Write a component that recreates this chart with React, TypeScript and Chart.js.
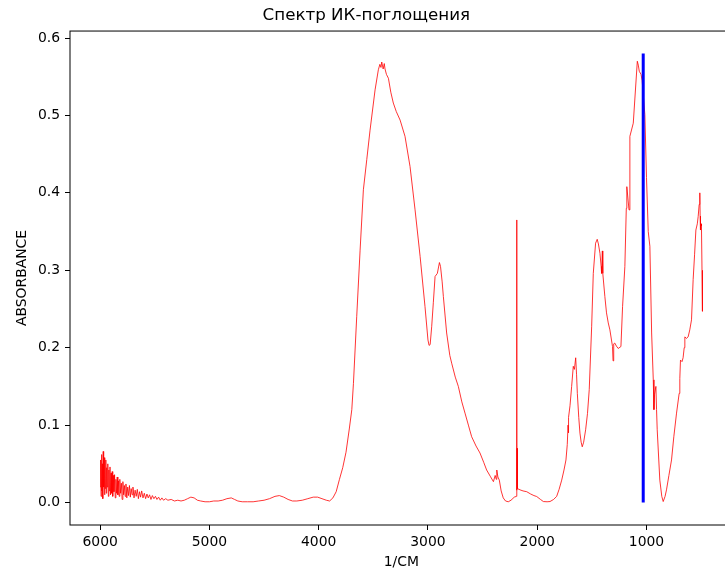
import React, { useEffect, useRef } from "react";
import { Chart, registerables } from "chart.js";

Chart.register(...registerables);

const chartTitle = "Спектр ИК-поглощения";
const xAxisLabel = "1/CM";
const yAxisLabel = "ABSORBANCE";

const xTicks = [6000, 5000, 4000, 3000, 2000, 1000];
const yTicks = [0, 0.1, 0.2, 0.3, 0.4, 0.5, 0.6];

// [wavenumber (1/cm), absorbance]
const spectrum: [number, number][] = [
  [6000, 0.02], [5996, 0.055], [5992, 0.008], [5988, 0.062], [5984, 0.015], [5980, 0.05], [5976, 0.005], [5972, 0.066], [5968, 0.02], [5964, 0.058],
  [5960, 0.01], [5956, 0.048], [5952, 0.018], [5948, 0.055], [5944, 0.012], [5940, 0.045], [5935, 0.02], [5930, 0.05], [5925, 0.008], [5920, 0.042],
  [5915, 0.015], [5910, 0.046], [5905, 0.01], [5900, 0.038], [5895, 0.012], [5890, 0.04], [5885, 0.008], [5880, 0.035], [5874, 0.014], [5868, 0.036],
  [5862, 0.006], [5856, 0.03], [5850, 0.012], [5844, 0.033], [5838, 0.01], [5832, 0.028], [5826, 0.008], [5820, 0.03], [5813, 0.012], [5806, 0.025],
  [5799, 0.004], [5792, 0.027], [5785, 0.01], [5778, 0.022], [5771, 0.008], [5764, 0.024], [5756, 0.006], [5748, 0.02], [5740, 0.009], [5732, 0.022],
  [5724, 0.007], [5716, 0.018], [5708, 0.01], [5700, 0.02], [5690, 0.006], [5680, 0.016], [5670, 0.008], [5660, 0.017], [5650, 0.005], [5640, 0.014],
  [5630, 0.007], [5620, 0.015], [5608, 0.006], [5596, 0.012], [5584, 0.005], [5572, 0.011], [5560, 0.006], [5548, 0.01], [5535, 0.004], [5522, 0.009],
  [5508, 0.005], [5494, 0.008], [5480, 0.004], [5465, 0.007], [5450, 0.003], [5435, 0.006], [5420, 0.003], [5400, 0.005], [5380, 0.003], [5350, 0.004],
  [5320, 0.002], [5290, 0.003], [5260, 0.002], [5230, 0.003], [5200, 0.005], [5170, 0.007], [5140, 0.006], [5110, 0.003], [5080, 0.002], [5040, 0.001],
  [5000, 0.001], [4960, 0.002], [4920, 0.002], [4880, 0.003], [4840, 0.005], [4800, 0.006], [4770, 0.004], [4740, 0.002], [4700, 0.001], [4650, 0.001],
  [4600, 0.001], [4550, 0.002], [4500, 0.003], [4450, 0.005], [4400, 0.008], [4360, 0.009], [4320, 0.007], [4280, 0.004], [4240, 0.002], [4200, 0.002],
  [4150, 0.003], [4100, 0.005], [4050, 0.007], [4010, 0.007], [3970, 0.005], [3930, 0.003], [3900, 0.002], [3870, 0.006], [3840, 0.014], [3810, 0.03],
  [3780, 0.045], [3750, 0.065], [3720, 0.095], [3697, 0.12], [3682, 0.154], [3652, 0.24], [3621, 0.326], [3591, 0.404], [3560, 0.443], [3530, 0.481],
  [3484, 0.533], [3454, 0.559], [3440, 0.566], [3430, 0.562], [3423, 0.569], [3410, 0.56], [3400, 0.567], [3393, 0.56], [3380, 0.553], [3362, 0.548],
  [3340, 0.53], [3317, 0.516], [3290, 0.505], [3255, 0.494], [3210, 0.473], [3164, 0.434], [3118, 0.378], [3072, 0.318], [3027, 0.253], [3000, 0.21],
  [2990, 0.203], [2980, 0.204], [2966, 0.227], [2951, 0.258], [2935, 0.292], [2914, 0.296], [2895, 0.31], [2885, 0.305], [2870, 0.285], [2859, 0.266],
  [2829, 0.219], [2800, 0.19], [2783, 0.18], [2750, 0.162], [2722, 0.15], [2690, 0.13], [2661, 0.1155], [2630, 0.1], [2600, 0.085], [2560, 0.073],
  [2524, 0.064], [2490, 0.052], [2463, 0.042], [2430, 0.034], [2401, 0.027], [2385, 0.035], [2375, 0.03], [2370, 0.042], [2360, 0.033], [2347, 0.029],
  [2330, 0.015], [2311, 0.006], [2290, 0.002], [2265, 0.001], [2240, 0.003], [2210, 0.007], [2190, 0.008], [2188, 0.365], [2186, 0.016], [2184, 0.07],
  [2181, 0.018], [2157, 0.0164], [2130, 0.015], [2096, 0.014], [2060, 0.011], [2030, 0.009], [2005, 0.0078], [1970, 0.004], [1944, 0.0013], [1910, 0.001],
  [1883, 0.0013], [1850, 0.004], [1822, 0.008], [1800, 0.017], [1776, 0.029], [1755, 0.042], [1737, 0.055], [1725, 0.075], [1718, 0.1], [1715, 0.09],
  [1712, 0.11], [1700, 0.125], [1685, 0.15], [1670, 0.176], [1660, 0.172], [1648, 0.187], [1640, 0.165], [1633, 0.141], [1620, 0.11], [1609, 0.0897],
  [1598, 0.078], [1588, 0.072], [1575, 0.078], [1557, 0.094], [1540, 0.115], [1524, 0.146], [1502, 0.227], [1487, 0.296], [1466, 0.335], [1451, 0.34],
  [1440, 0.334], [1426, 0.322], [1415, 0.305], [1411, 0.296], [1404, 0.325], [1400, 0.296], [1381, 0.266], [1366, 0.245], [1350, 0.232], [1335, 0.223],
  [1311, 0.2015], [1306, 0.183], [1300, 0.205], [1290, 0.206], [1275, 0.202], [1259, 0.199], [1234, 0.2015], [1219, 0.253], [1198, 0.305], [1185, 0.38],
  [1180, 0.408], [1160, 0.378], [1152, 0.473], [1121, 0.49], [1084, 0.57], [1075, 0.565], [1066, 0.557], [1050, 0.553], [1040, 0.545], [1015, 0.501],
  [1000, 0.42], [984, 0.35], [969, 0.331], [953, 0.219], [938, 0.1585], [932, 0.12], [926, 0.14], [914, 0.15], [908, 0.12], [902, 0.094],
  [878, 0.029], [860, 0.008], [847, 0.0013], [830, 0.008], [817, 0.0164], [795, 0.035], [771, 0.055], [750, 0.085], [725, 0.1155], [701, 0.141],
  [695, 0.16], [689, 0.184], [675, 0.182], [665, 0.187], [655, 0.2], [649, 0.214], [635, 0.212], [619, 0.214], [604, 0.223], [588, 0.236],
  [573, 0.288], [560, 0.32], [548, 0.352], [535, 0.36], [527, 0.3695], [518, 0.385], [512, 0.4], [509, 0.37], [506, 0.352], [500, 0.36],
  [497, 0.357], [492, 0.3], [488, 0.247],
];

const markerWavenumber = [1030, 1030];
const markerAbsorbance = [0, 0.58];

const xMin = 212;
const xMax = 6276;
const yMin = -0.029;
const yMax = 0.609;

const FONT = "'DejaVu Sans', sans-serif";

export default function App() {
  const canvasRef = useRef<HTMLCanvasElement | null>(null);

  useEffect(() => {
    const canvas = canvasRef.current;
    if (!canvas) return;

    const framePlugin = {
      id: "frame",
      afterDatasetsDraw(chart: any) {
        const { ctx, chartArea } = chart;
        const { left, top, right, bottom } = chartArea;
        ctx.save();
        ctx.strokeStyle = "#000";
        ctx.lineWidth = 1;
        ctx.strokeRect(left, top, right - left, bottom - top);
        ctx.restore();
      },
    };

    const chart = new Chart(canvas, {
      type: "line",
      data: {
        datasets: [
          {
            label: "marker",
            data: markerWavenumber.map((x, i) => ({ x, y: markerAbsorbance[i] })),
            borderColor: "#0000ff",
            borderWidth: 3,
            pointRadius: 0,
            tension: 0,
          },
          {
            label: "spectrum",
            data: spectrum.map(([x, y]) => ({ x, y })),
            borderColor: "#ff0000",
            borderWidth: 0.8,
            pointRadius: 0,
            tension: 0,
          },
        ],
      },
      options: {
        animation: false,
        responsive: false,
        devicePixelRatio: 1,
        layout: { padding: { left: 0, right: 69.4, top: 0, bottom: 0 } },
        plugins: {
          legend: { display: false },
          tooltip: { enabled: false },
          title: {
            display: true,
            text: chartTitle,
            color: "#000",
            font: { family: FONT, size: 16.7, weight: "normal" },
            padding: { top: 6, bottom: 5 },
          },
        },
        scales: {
          x: {
            type: "linear",
            reverse: true,
            min: xMin,
            max: xMax,
            afterBuildTicks: (scale: any) => {
              scale.ticks = xTicks.map((v) => ({ value: v }));
            },
            afterFit: (scale: any) => {
              scale.height = 47;
            },
            ticks: {
              color: "#000",
              font: { family: FONT, size: 13.9 },
              padding: 4,
              maxRotation: 0,
              autoSkip: false,
              callback: (v: any) => String(v),
            },
            grid: {
              drawOnChartArea: false,
              drawTicks: true,
              tickLength: 5,
              tickColor: "#000",
              color: "#000",
            },
            border: { display: false },
            title: {
              display: true,
              text: xAxisLabel,
              color: "#000",
              font: { family: FONT, size: 13.9 },
              padding: { top: 0, bottom: 1 },
            },
          },
          y: {
            type: "linear",
            min: yMin,
            max: yMax,
            afterBuildTicks: (scale: any) => {
              scale.ticks = yTicks.map((v) => ({ value: v }));
            },
            afterFit: (scale: any) => {
              scale.width = 70;
            },
            ticks: {
              color: "#000",
              font: { family: FONT, size: 13.9 },
              padding: 5,
              autoSkip: false,
              callback: (v: any) => Number(v).toFixed(1),
            },
            grid: {
              drawOnChartArea: false,
              drawTicks: true,
              tickLength: 5,
              tickColor: "#000",
              color: "#000",
            },
            border: { display: false },
            title: {
              display: true,
              text: yAxisLabel,
              color: "#000",
              font: { family: FONT, size: 13.9 },
              padding: { top: 14, bottom: 0 },
            },
          },
        },
      },
      plugins: [framePlugin],
    } as any);

    return () => {
      chart.destroy();
    };
  }, []);

  return (
    <div
      style={{
        position: "absolute",
        left: 0,
        top: 0,
        width: 725,
        height: 572,
        overflow: "hidden",
        background: "#fff",
      }}
    >
      <canvas ref={canvasRef} width={802} height={572} style={{ display: "block" }} />
    </div>
  );
}
